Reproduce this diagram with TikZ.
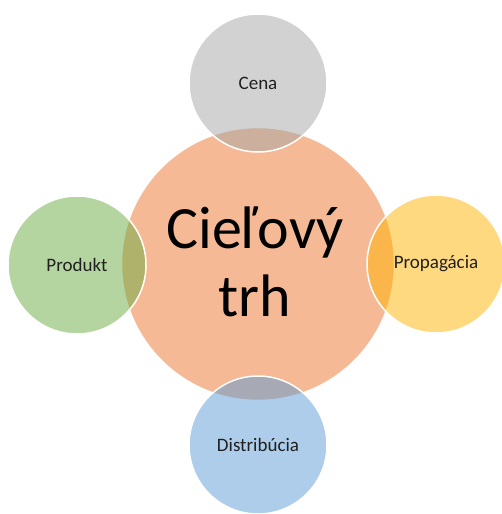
\documentclass[tikz,border=0pt]{standalone}
\usepackage{fontspec}
\setmainfont{Carlito}
\definecolor{hubfill}{HTML}{F5BA95}
\definecolor{grayacc}{HTML}{A5A5A5}
\definecolor{greenacc}{HTML}{6BAB41}
\definecolor{goldacc}{HTML}{FFB300}
\definecolor{blueacc}{HTML}{5B9BD5}
\definecolor{labeltext}{HTML}{202020}
\tikzset{
  hub/.style={circle, fill=hubfill, draw=white, line width=1.5pt, minimum size=273pt, inner sep=0pt},
  sat/.style={circle, fill=#1, fill opacity=0.5, text opacity=1, draw=white, line width=1.5pt,
              minimum size=138pt, inner sep=0pt, font=\fontsize{19}{22}\selectfont, text=labeltext},
  hubtext/.style={font=\fontsize{60}{70}\selectfont, align=center, text=black}
}
\begin{document}
\begin{tikzpicture}[x=1pt,y=-1pt]
  \useasboundingbox (0,0) rectangle (501,514);
  % central circle
  \node[hub] (hub) at (258,264) {};
  % four surrounding circles, semi-transparent over the centre
  \node[sat=grayacc]  (cena) at (258,83)  {Cena};
  \node[sat=greenacc] (produkt) at (77,265) {Produkt};
  \node[sat=goldacc]  (propagacia) at (436,264) {Propagácia};
  \node[sat=blueacc]  (distribucia) at (258,445) {Distribúcia};
  % central label
  \node[hubtext] (title) at (255,262) {Cieľový\\[-2pt]trh};
\end{tikzpicture}
\end{document}
